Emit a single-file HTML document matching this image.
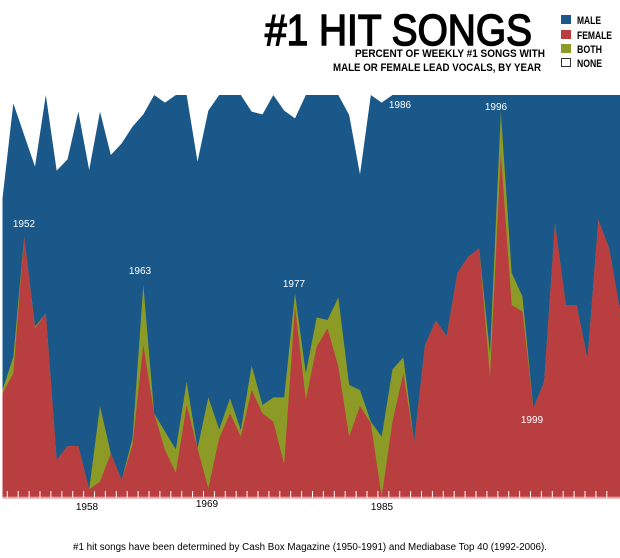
<!DOCTYPE html>
<html><head><meta charset="utf-8"><style>
html,body{margin:0;padding:0;background:#fff;}
svg{display:block;}
</style></head><body>
<svg width="620" height="558" viewBox="0 0 620 558" xmlns="http://www.w3.org/2000/svg">
<g transform="translate(0,80) scale(0.333333)">
<polygon fill="#1a5889" points="7.5,1253 7.5,355 40,70 72.5,165 105,260 137.5,45 170,272 202.5,238 235,95 267.5,270 300,95 332.5,225 365,190 397.5,140 430,103 462.5,45 495,68 527.5,45 560,45 592.5,245 625,92 657.5,45 690,45 722.5,45 755,95 787.5,103 820,45 852.5,92 885,115 917.5,45 950,45 982.5,45 1015,45 1047.5,105 1080,283 1112.5,45 1145,68 1177.5,45 1860,45 1860,1253"/>
<polygon fill="#8b9b26" points="7.5,1253 7.5,930 40,830 72.5,470 105,740 137.5,700 170,1140 202.5,1098 235,1098 267.5,1228 300,978 332.5,1120 365,1200 397.5,1075 430,615 462.5,1000 495,1055 527.5,1108 560,905 592.5,1105 625,952 657.5,1048 690,955 722.5,1050 755,857 787.5,975 820,952 852.5,952 885,640 917.5,880 950,712 982.5,720 1015,652 1047.5,915 1080,930 1112.5,1025 1145,1070 1177.5,868 1210,832 1242.5,1085 1275,795 1307.5,722 1340,768 1372.5,578 1405,530 1437.5,505 1470,820 1502.5,95 1535,578 1567.5,650 1600,985 1632.5,905 1665,430 1697.5,675 1730,675 1762.5,838 1795,420 1827.5,505 1860,690 1860,1253"/>
<polygon fill="#b93e40" points="7.5,1253 7.5,940 40,880 72.5,470 105,745 137.5,700 170,1140 202.5,1098 235,1098 267.5,1228 300,1205 332.5,1120 365,1200 397.5,1095 430,795 462.5,1000 495,1110 527.5,1178 560,975 592.5,1105 625,1225 657.5,1075 690,1000 722.5,1070 755,930 787.5,1000 820,1025 852.5,1152 885,680 917.5,960 950,800 982.5,745 1015,860 1047.5,1070 1080,978 1112.5,1030 1145,1250 1177.5,1025 1210,880 1242.5,1085 1275,795 1307.5,722 1340,768 1372.5,578 1405,530 1437.5,505 1470,890 1502.5,220 1535,675 1567.5,695 1600,985 1632.5,905 1665,430 1697.5,675 1730,675 1762.5,838 1795,420 1827.5,505 1860,690 1860,1253"/>
<rect x="7.5" y="1250" width="1852.5" height="6" fill="#e6a0a4"/>
</g>
<g stroke="#fff" stroke-width="1">
<line x1="7.3" y1="491" x2="7.3" y2="498"/><line x1="18.2" y1="491" x2="18.2" y2="498"/><line x1="29.1" y1="491" x2="29.1" y2="498"/><line x1="40" y1="491" x2="40" y2="498"/><line x1="50.9" y1="491" x2="50.9" y2="498"/><line x1="61.8" y1="491" x2="61.8" y2="498"/><line x1="72.7" y1="491" x2="72.7" y2="498"/><line x1="83.6" y1="491" x2="83.6" y2="498"/><line x1="94.5" y1="491" x2="94.5" y2="498"/><line x1="105.4" y1="491" x2="105.4" y2="498"/><line x1="116.3" y1="491" x2="116.3" y2="498"/><line x1="127.2" y1="491" x2="127.2" y2="498"/><line x1="138.1" y1="491" x2="138.1" y2="498"/><line x1="149" y1="491" x2="149" y2="498"/><line x1="159.9" y1="491" x2="159.9" y2="498"/><line x1="170.8" y1="491" x2="170.8" y2="498"/><line x1="181.7" y1="491" x2="181.7" y2="498"/><line x1="192.6" y1="491" x2="192.6" y2="498"/><line x1="203.5" y1="491" x2="203.5" y2="498"/><line x1="214.4" y1="491" x2="214.4" y2="498"/><line x1="225.3" y1="491" x2="225.3" y2="498"/><line x1="236.2" y1="491" x2="236.2" y2="498"/><line x1="247.1" y1="491" x2="247.1" y2="498"/><line x1="258" y1="491" x2="258" y2="498"/><line x1="268.9" y1="491" x2="268.9" y2="498"/><line x1="279.8" y1="491" x2="279.8" y2="498"/><line x1="290.7" y1="491" x2="290.7" y2="498"/><line x1="301.6" y1="491" x2="301.6" y2="498"/><line x1="312.5" y1="491" x2="312.5" y2="498"/><line x1="323.4" y1="491" x2="323.4" y2="498"/><line x1="334.3" y1="491" x2="334.3" y2="498"/><line x1="345.2" y1="491" x2="345.2" y2="498"/><line x1="356.1" y1="491" x2="356.1" y2="498"/><line x1="367" y1="491" x2="367" y2="498"/><line x1="377.9" y1="491" x2="377.9" y2="498"/><line x1="388.8" y1="491" x2="388.8" y2="498"/><line x1="399.7" y1="491" x2="399.7" y2="498"/><line x1="410.6" y1="491" x2="410.6" y2="498"/><line x1="421.5" y1="491" x2="421.5" y2="498"/><line x1="432.4" y1="491" x2="432.4" y2="498"/><line x1="443.3" y1="491" x2="443.3" y2="498"/><line x1="454.2" y1="491" x2="454.2" y2="498"/><line x1="465.1" y1="491" x2="465.1" y2="498"/><line x1="476" y1="491" x2="476" y2="498"/><line x1="486.9" y1="491" x2="486.9" y2="498"/><line x1="497.8" y1="491" x2="497.8" y2="498"/><line x1="508.7" y1="491" x2="508.7" y2="498"/><line x1="519.6" y1="491" x2="519.6" y2="498"/><line x1="530.5" y1="491" x2="530.5" y2="498"/><line x1="541.4" y1="491" x2="541.4" y2="498"/><line x1="552.3" y1="491" x2="552.3" y2="498"/><line x1="563.2" y1="491" x2="563.2" y2="498"/><line x1="574.1" y1="491" x2="574.1" y2="498"/><line x1="585" y1="491" x2="585" y2="498"/><line x1="595.9" y1="491" x2="595.9" y2="498"/><line x1="606.8" y1="491" x2="606.8" y2="498"/>
</g>
<g font-family="Liberation Sans Narrow, Liberation Sans, sans-serif" font-size="10" fill="#fff" text-anchor="middle">
<text x="24" y="227">1952</text>
<text x="140" y="274">1963</text>
<text x="294" y="287">1977</text>
<text x="400" y="108">1986</text>
<text x="496" y="110">1996</text>
<text x="532" y="423">1999</text>
</g>
<g font-family="Liberation Sans Narrow, Liberation Sans, sans-serif" font-size="10" fill="#000" text-anchor="middle">
<text x="87" y="510">1958</text>
<text x="207" y="507">1969</text>
<text x="382" y="510">1985</text>
</g>
<text x="265" y="45" font-family="Liberation Sans, sans-serif" font-size="44" fill="#000" stroke="#000" stroke-width="1.5" textLength="267" lengthAdjust="spacingAndGlyphs">#1 HIT SONGS</text>
<g font-family="Liberation Sans Narrow, Liberation Sans, sans-serif" font-size="11" font-weight="bold" fill="#000" text-anchor="end">
<text x="545" y="57" textLength="190" lengthAdjust="spacingAndGlyphs">PERCENT OF WEEKLY #1 SONGS WITH</text>
<text x="541" y="71" textLength="208" lengthAdjust="spacingAndGlyphs">MALE OR FEMALE LEAD VOCALS, BY YEAR</text>
</g>
<rect x="561" y="15" width="10" height="9" fill="#1a5889"/>
<rect x="561" y="30" width="10" height="9" fill="#b93e40"/>
<rect x="561" y="44" width="10" height="9" fill="#8b9b26"/>
<rect x="561.5" y="58.5" width="9" height="8" fill="#fff" stroke="#333"/>
<g font-family="Liberation Sans Narrow, Liberation Sans, sans-serif" font-size="11" font-weight="bold" fill="#000">
<text x="577" y="24" textLength="24" lengthAdjust="spacingAndGlyphs">MALE</text>
<text x="577" y="39" textLength="35" lengthAdjust="spacingAndGlyphs">FEMALE</text>
<text x="577" y="53" textLength="25" lengthAdjust="spacingAndGlyphs">BOTH</text>
<text x="577" y="67" textLength="25" lengthAdjust="spacingAndGlyphs">NONE</text>
</g>
<text x="310" y="550" font-family="Liberation Sans, sans-serif" font-size="10" fill="#000" text-anchor="middle" textLength="474" lengthAdjust="spacingAndGlyphs">#1 hit songs have been determined by Cash Box Magazine (1950-1991) and Mediabase Top 40 (1992-2006).</text>
</svg>
</body></html>
